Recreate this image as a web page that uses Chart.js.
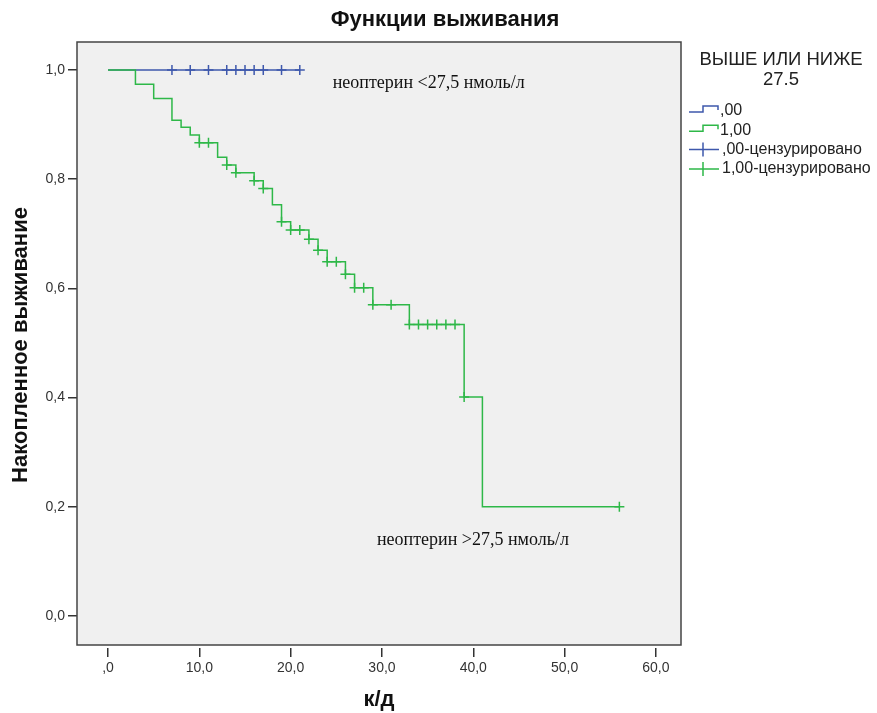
<!DOCTYPE html>
<html>
<head>
<meta charset="utf-8">
<script src="https://cdn.jsdelivr.net/npm/chart.js@4.4.1/dist/chart.umd.min.js"></script>
<style>
  body { margin: 0; background: #fff; }
</style>
</head>
<body>
<canvas id="survivalChart" width="877" height="713"></canvas>
<script>
// group 1,00 (неоптерин > 27,5) - Kaplan-Meier steps
const greenTimes = [0, 3, 5, 7, 8, 9, 10, 12, 13, 14, 16, 17, 18, 19, 20, 22, 23, 24, 26, 27, 29, 33, 39, 41, 56];
const greenSurv = [1.0, 0.974, 0.948, 0.908, 0.895, 0.881, 0.867, 0.840, 0.826, 0.812, 0.797, 0.783, 0.753, 0.722, 0.707, 0.690, 0.670, 0.649, 0.626, 0.601, 0.570, 0.534, 0.401, 0.200, 0.200];
const greenCensored = [10, 11, 13, 14, 16, 17, 19, 20, 21, 22, 23, 24, 25, 26, 27, 28, 29, 31, 33, 34, 35, 36, 37, 38, 39, 56];

// group ,00 (неоптерин < 27,5)
const blueTimes = [0, 21];
const blueSurv = [1.0, 1.0];
const blueCensored = [7, 9, 11, 13, 14, 15, 16, 17, 19, 21];

const xTicks = [0, 10, 20, 30, 40, 50, 60];
const xTickLabels = [',0', '10,0', '20,0', '30,0', '40,0', '50,0', '60,0'];
const yTicks = [0, 0.2, 0.4, 0.6, 0.8, 1.0];
const yTickLabels = ['0,0', '0,2', '0,4', '0,6', '0,8', '1,0'];

const legendTitle = ['ВЫШЕ ИЛИ НИЖЕ', '27.5'];
const legendLabels = [',00', '1,00', ',00-цензурировано', '1,00-цензурировано'];

const BLUE = '#3e58ac';
const GREEN = '#2eb848';
const SANS = '"Liberation Sans", Arial, sans-serif';
const SERIF = '"Liberation Serif", "Times New Roman", serif';

// survival value at time t (step function)
function survAt(times, surv, t) {
    let s = surv[0];
    for (let i = 0; i < times.length; i++) {
        if (times[i] <= t) s = surv[i];
    }
    return s;
}

const decor = {
    id: 'decor',
    beforeDraw(chart) {
        const { ctx, chartArea: a } = chart;
        ctx.save();
        ctx.fillStyle = '#f0f0f0';
        ctx.fillRect(a.left, a.top, a.right - a.left, a.bottom - 3 - a.top);
        ctx.restore();
    },
    afterDraw(chart) {
        const { ctx, chartArea: a, scales } = chart;
        ctx.save();

        // plot frame
        ctx.strokeStyle = '#444';
        ctx.lineWidth = 1.5;
        ctx.strokeRect(a.left, a.top, a.right - a.left, a.bottom - 3 - a.top);

        // title
        ctx.fillStyle = '#111';
        ctx.font = 'bold 22px ' + SANS;
        ctx.textAlign = 'center';
        ctx.textBaseline = 'middle';
        ctx.fillText('Функции выживания', 445, 20);

        // notes inside the plot
        ctx.font = '18px ' + SERIF;
        ctx.textAlign = 'left';
        ctx.fillText('неоптерин <27,5 нмоль/л', scales.x.getPixelForValue(24.6), scales.y.getPixelForValue(0.976));
        ctx.fillText('неоптерин >27,5 нмоль/л', scales.x.getPixelForValue(29.45), scales.y.getPixelForValue(0.139));

        // legend
        ctx.font = '18.5px ' + SANS;
        ctx.textAlign = 'center';
        ctx.fillStyle = '#222';
        ctx.fillText(legendTitle[0], 781, 60);
        ctx.fillText(legendTitle[1], 781, 80);

        ctx.font = '16px ' + SANS;
        ctx.textAlign = 'left';
        const colors = [BLUE, GREEN, BLUE, GREEN];
        legendLabels.forEach((label, i) => {
            const y = 111 + i * 19.3;
            ctx.strokeStyle = colors[i];
            ctx.lineWidth = 1.5;
            ctx.beginPath();
            if (i < 2) {
                ctx.moveTo(689, y + 1);
                ctx.lineTo(703, y + 1);
                ctx.lineTo(703, y - 5);
                ctx.lineTo(718, y - 5);
                ctx.lineTo(718, y - 1);
            } else {
                ctx.moveTo(689, y);
                ctx.lineTo(719, y);
                ctx.moveTo(703, y - 7);
                ctx.lineTo(703, y + 7);
            }
            ctx.stroke();
            ctx.fillStyle = '#222';
            ctx.fillText(label, i < 2 ? 720 : 722, y);
        });
        ctx.restore();
    }
};

new Chart(document.getElementById('survivalChart'), {
    type: 'scatter',
    data: {
        datasets: [{
            label: '1,00',
            data: greenTimes.map((t, i) => ({ x: t, y: greenSurv[i] })),
            showLine: true,
            stepped: 'before',
            borderColor: GREEN,
            borderWidth: 1.5,
            pointRadius: 0,
            order: 0
        }, {
            label: '1,00-цензурировано',
            data: greenCensored.map(t => ({ x: t, y: survAt(greenTimes, greenSurv, t) })),
            showLine: false,
            pointStyle: 'cross',
            pointRadius: 5,
            borderColor: GREEN,
            borderWidth: 1.5,
            order: 0
        }, {
            label: ',00',
            data: blueTimes.map((t, i) => ({ x: t, y: blueSurv[i] })),
            showLine: true,
            stepped: 'before',
            borderColor: BLUE,
            borderWidth: 1.5,
            pointRadius: 0,
            order: 1
        }, {
            label: ',00-цензурировано',
            data: blueCensored.map(t => ({ x: t, y: survAt(blueTimes, blueSurv, t) })),
            showLine: false,
            pointStyle: 'cross',
            pointRadius: 5,
            borderColor: BLUE,
            borderWidth: 1.5,
            order: 1
        }]
    },
    options: {
        responsive: false,
        animation: false,
        layout: {
            padding: { top: 42, right: 196, left: 0, bottom: 0 }
        },
        plugins: {
            legend: { display: false },
            tooltip: { enabled: false }
        },
        scales: {
            x: {
                type: 'linear',
                min: -3.4,
                max: 62.75,
                afterBuildTicks: s => { s.ticks = xTicks.map(v => ({ value: v })); },
                afterFit: s => { s.height = 65; },
                border: { display: false },
                grid: { drawOnChartArea: false, tickLength: 9, color: '#333', lineWidth: 1.5 },
                ticks: {
                    autoSkip: false,
                    maxRotation: 0,
                    padding: 3,
                    color: '#333',
                    font: { family: SANS, size: 14 },
                    callback: v => xTickLabels[xTicks.indexOf(v)]
                },
                title: {
                    display: true,
                    text: 'к/д',
                    color: '#111',
                    font: { family: SANS, size: 22, weight: 'bold' },
                    padding: { top: 0, bottom: 0 }
                }
            },
            y: {
                type: 'linear',
                min: -0.0586,
                max: 1.0513,
                afterBuildTicks: s => { s.ticks = yTicks.map(v => ({ value: v })); },
                afterFit: s => { s.width = 77; },
                border: { display: false },
                grid: { drawOnChartArea: false, tickLength: 9, color: '#333', lineWidth: 1.5 },
                ticks: {
                    autoSkip: false,
                    padding: 3,
                    color: '#333',
                    font: { family: SANS, size: 14 },
                    callback: v => yTickLabels[yTicks.findIndex(t => Math.abs(t - v) < 1e-6)]
                },
                title: {
                    display: true,
                    text: 'Накопленное выживание',
                    color: '#111',
                    font: { family: SANS, size: 22, weight: 'bold' },
                    padding: { top: 8, bottom: 0 }
                }
            }
        }
    },
    plugins: [decor]
});
</script>
</body>
</html>
